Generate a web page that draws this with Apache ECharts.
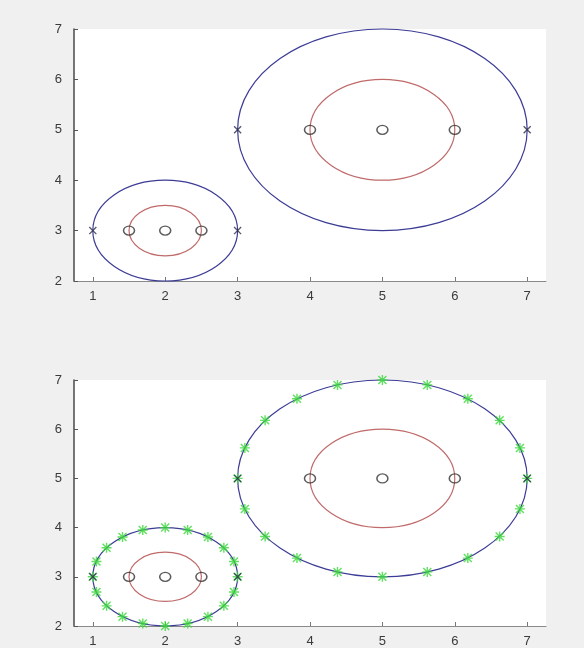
<!DOCTYPE html>
<html>
<head>
<meta charset="utf-8">
<script src="https://cdn.jsdelivr.net/npm/echarts@6/dist/echarts.min.js"></script>
<style>
  html, body { margin: 0; padding: 0; background: #f0f0f0; }
  #chart { width: 584px; height: 648px; }
</style>
</head>
<body>
<div id="chart"></div>
<script>
// Tick values shared by both panels
const xTicks = [1, 2, 3, 4, 5, 6, 7];
const yTicks = [2, 3, 4, 5, 6, 7];

// Circles as [centerX, centerY, radius]
const outerCircles = [[2, 3, 1], [5, 5, 2]];
const innerCircles = [[2, 3, 0.5], [5, 5, 1]];

// Centres and points where the inner circles cross the horizontal line
const ringPoints = [[1.5, 3], [2, 3], [2.5, 3], [4, 5], [5, 5], [6, 5]];
// Points where the outer circles cross the horizontal line
const crossPoints = [[1, 3], [3, 3], [3, 5], [7, 5]];

// Sample points along the outer circles (lower panel)
const smallSampleX = [3, 2.95, 2.81, 2.59, 2.31, 2, 1.69, 1.41, 1.19, 1.05, 1, 1.05, 1.19, 1.41, 1.69, 2, 2.31, 2.59, 2.81, 2.95];
const smallSampleY = [3, 3.31, 3.59, 3.81, 3.95, 4, 3.95, 3.81, 3.59, 3.31, 3, 2.69, 2.41, 2.19, 2.05, 2, 2.05, 2.19, 2.41, 2.69];
const bigSampleX = [7, 6.9, 6.62, 6.18, 5.62, 5, 4.38, 3.82, 3.38, 3.1, 3, 3.1, 3.38, 3.82, 4.38, 5, 5.62, 6.18, 6.62, 6.9];
const bigSampleY = [5, 5.62, 6.18, 6.62, 6.9, 7, 6.9, 6.62, 6.18, 5.62, 5, 4.38, 3.82, 3.38, 3.1, 3, 3.1, 3.38, 3.82, 4.38];

const samplePoints = smallSampleX.map((x, i) => [x, smallSampleY[i]])
  .concat(bigSampleX.map((x, i) => [x, bigSampleY[i]]));

// Marker glyphs built from filled bars
const X_SYMBOL = 'path://M1 3.1L3.1 1L19 16.9L16.9 19Z M16.9 1L19 3.1L3.1 19L1 16.9Z';
const STAR_SYMBOL = 'path://M8.6 0H11.4V20H8.6Z M0 8.6H20V11.4H0Z M1 3L3 1L19 17L17 19Z M17 1L19 3L3 19L1 17Z';

const labelStyle = { color: '#3a3a3a', fontSize: 13, fontFamily: 'Liberation Sans, Arial, sans-serif' };

function makeX(gridIndex) {
  return {
    type: 'value', gridIndex, min: 0.74, max: 7.26,
    axisLine: { show: true, lineStyle: { color: '#8a8a8a', width: 1 } },
    axisTick: { show: true, inside: true, length: 4, customValues: xTicks, lineStyle: { color: '#777' } },
    axisLabel: Object.assign({ margin: 9, customValues: xTicks }, labelStyle),
    splitLine: { show: false }
  };
}
function makeY(gridIndex) {
  return {
    type: 'value', gridIndex, min: 2, max: 7, interval: 1,
    axisLine: { show: true, lineStyle: { color: '#4a4a4a', width: 1.5 } },
    axisTick: { show: true, inside: true, length: 4, lineStyle: { color: '#555' } },
    axisLabel: Object.assign({ margin: 12 }, labelStyle),
    splitLine: { show: false }
  };
}

function circleSeries(data, color, idx) {
  return {
    type: 'custom', xAxisIndex: idx, yAxisIndex: idx,
    data: data, encode: { x: 0, y: 1 }, silent: true, clip: false,
    renderItem: function (params, api) {
      const c = api.coord([api.value(0), api.value(1)]);
      const s = api.size([api.value(2), api.value(2)]);
      return {
        type: 'ellipse',
        shape: { cx: c[0], cy: c[1], rx: s[0], ry: s[1] },
        style: { fill: 'none', stroke: color, lineWidth: 1.2 }
      };
    }
  };
}

function panelSeries(idx, withSamples) {
  const list = [
    circleSeries(outerCircles, '#3c3c96', idx),
    circleSeries(innerCircles, '#c06a6a', idx),
    {
      type: 'scatter', xAxisIndex: idx, yAxisIndex: idx, data: ringPoints,
      symbol: 'circle', symbolSize: [11, 9],
      itemStyle: { color: 'rgba(0,0,0,0)', borderColor: '#333', borderWidth: 1.4 }
    }
  ];
  if (withSamples) {
    list.push({
      type: 'scatter', xAxisIndex: idx, yAxisIndex: idx, data: samplePoints,
      symbol: STAR_SYMBOL, symbolSize: 10,
      itemStyle: { color: '#3ad83a' }
    });
  }
  list.push({
    type: 'scatter', xAxisIndex: idx, yAxisIndex: idx, data: crossPoints,
    symbol: X_SYMBOL, symbolSize: 8,
    itemStyle: { color: '#2a2a4a' }
  });
  return list;
}

const chart = echarts.init(document.getElementById('chart'), null, { renderer: 'canvas' });
chart.setOption({
  animation: false,
  backgroundColor: '#f0f0f0',
  grid: [
    { left: 74, top: 29, width: 472, height: 252, show: true, backgroundColor: '#ffffff', borderWidth: 0 },
    { left: 74, top: 380, width: 472, height: 248, show: true, backgroundColor: '#ffffff', borderWidth: 0 }
  ],
  xAxis: [makeX(0), makeX(1)],
  yAxis: [makeY(0), makeY(1)],
  series: panelSeries(0, false).concat(panelSeries(1, true))
});
</script>
</body>
</html>
